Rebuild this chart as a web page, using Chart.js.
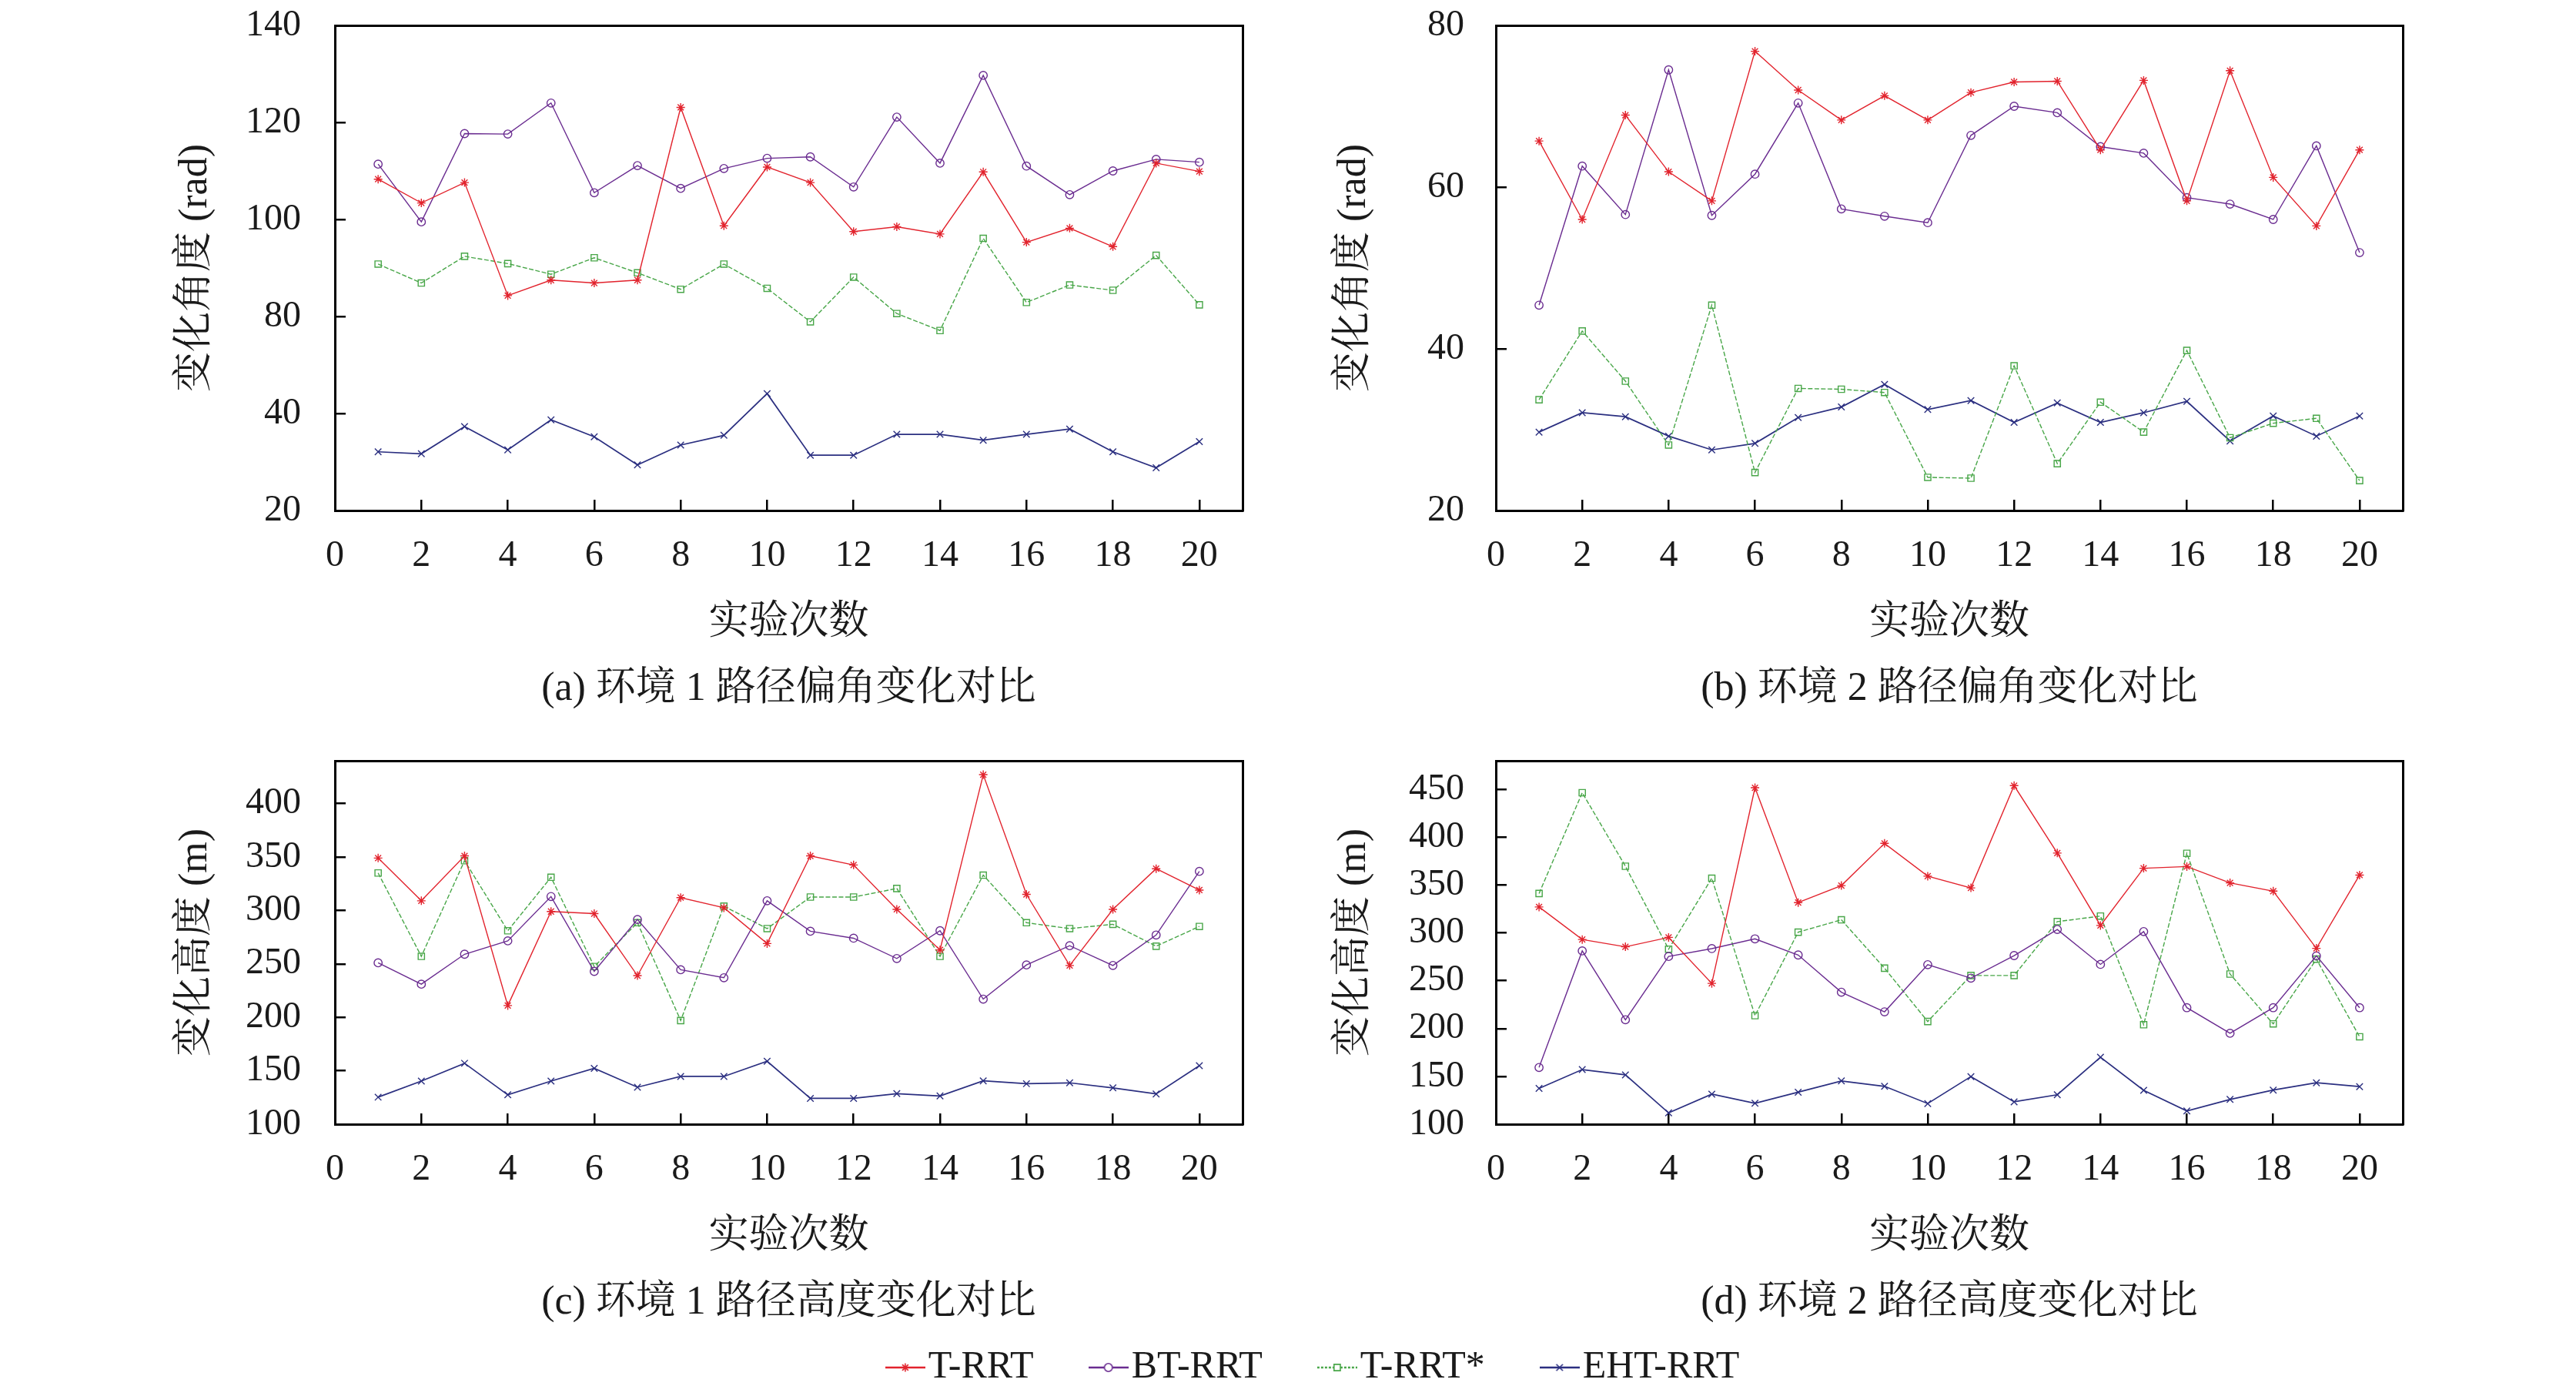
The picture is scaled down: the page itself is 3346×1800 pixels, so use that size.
<!DOCTYPE html>
<html>
<head>
<meta charset="utf-8">
<script src="https://cdn.jsdelivr.net/npm/chart.js@4.4.1/dist/chart.umd.min.js"></script>
<style>
html,body{margin:0;padding:0;background:#fff;width:3346px;height:1800px;overflow:hidden;}
canvas{position:absolute;}
</style>
</head>
<body>
<canvas id="pa" width="1673" height="950" style="left:0px;top:0px"></canvas>
<canvas id="pb" width="1673" height="950" style="left:1673px;top:0px"></canvas>
<canvas id="pc" width="1673" height="800" style="left:0px;top:950px"></canvas>
<canvas id="pd" width="1673" height="800" style="left:1673px;top:950px"></canvas>
<canvas id="leg" width="3346" height="300" style="left:42px;top:1659px"></canvas>
<script>
// ---------------- data ----------------
const runs = [1,2,3,4,5,6,7,8,9,10,11,12,13,14,15,16,17,18,19,20];
const seriesNames = ['T-RRT','BT-RRT','T-RRT*','EHT-RRT'];
const xTickValues = [0,2,4,6,8,10,12,14,16,18,20];

// (a) 环境1 路径偏角 (rad) — axis drawn with a gap between 40 and 80
const angleEnv1_TRRT  = [108.3,103.4,107.6,84.3,87.5,86.9,87.5,123.1,98.7,110.8,107.6,97.5,98.5,97.0,109.8,95.3,98.2,94.4,111.6,109.9];
const angleEnv1_BTRRT = [111.4,99.5,117.7,117.6,124.0,105.5,111.1,106.4,110.5,112.6,112.9,106.7,121.1,111.6,129.7,111.0,105.1,110.0,112.4,111.8];
const angleEnv1_TRRTs = [90.8,86.9,92.4,90.9,88.7,92.1,89.0,85.6,90.8,85.8,78.9,88.1,80.6,77.1,96.1,82.9,86.5,85.4,92.6,82.4];
const angleEnv1_EHT   = [32.1,31.7,37.3,32.5,38.7,35.2,29.4,33.5,35.5,44.1,31.4,31.4,35.7,35.7,34.5,35.7,36.8,32.1,28.8,34.2];
const yTickLabelsA = ['20','40','80','100','120','140'];

// (b) 环境2 路径偏角 (rad)
const angleEnv2_TRRT  = [65.7,56.0,68.9,61.9,58.3,76.8,72.0,68.3,71.3,68.3,71.7,73.0,73.1,64.6,73.2,58.3,74.4,61.2,55.2,64.6];
const angleEnv2_BTRRT = [45.4,62.6,56.6,74.5,56.5,61.6,70.4,57.3,56.4,55.6,66.4,70.0,69.2,65.0,64.2,58.7,57.9,56.0,65.1,51.9];
const angleEnv2_TRRTs = [33.7,42.2,36.0,28.1,45.4,24.7,35.1,35.0,34.6,24.1,24.0,37.9,25.8,33.4,29.7,39.8,29.0,30.8,31.4,23.7];
const angleEnv2_EHT   = [29.7,32.1,31.6,29.2,27.5,28.3,31.5,32.8,35.6,32.5,33.6,30.9,33.3,30.9,32.1,33.5,28.6,31.7,29.2,31.7];
const yTickValuesB = [20,40,60,80];

// (c) 环境1 路径高度 (m)
const heightEnv1_TRRT  = [349,309,351,211,299,297,239,312,302.5,269,351,342.5,301,263,427,315,248.5,301,339,319];
const heightEnv1_BTRRT = [251,231,259,271.5,313,243,291.5,244.5,237,309,280.5,274,255,281,217,249,267,248.5,277,336.5];
const heightEnv1_TRRTs = [335,257,346.5,281,331,247.5,288.5,197,304,283,312.5,312.5,320.5,257,333,288.5,283,287,266.5,285];
const heightEnv1_EHT   = [125.3,140.3,157,127.5,140.3,152.3,134.6,144.7,144.7,158.9,124.2,124.2,128.6,126.4,140.6,137.9,138.7,134,128.3,154.8];
const yTickValuesC = [100,150,200,250,300,350,400];

// (d) 环境2 路径高度 (m)
const heightEnv2_TRRT  = [327.1,293.1,285.5,295.3,247.2,451.8,331.7,349.5,393.6,359.3,347.1,454.0,383.5,307.8,367.6,369.4,352.3,343.7,283.9,360.5];
const heightEnv2_BTRRT = [159.3,281.2,209.2,275.4,283.6,293.8,276.9,238.0,217.5,266.8,252.7,276.3,303.6,267.1,301.4,221.8,195.1,221.8,276.0,221.8];
const heightEnv2_TRRTs = [341.2,446.6,369.7,283.0,357.2,213.5,300.8,313.7,263.1,207.4,255.5,255.5,311.8,317.6,204.0,383.2,257.0,204.9,272.6,191.4];
const heightEnv2_EHT   = [137.5,157.1,151.6,111.8,131.4,121.9,133.5,145.2,139.6,121.6,149.8,123.4,130.8,170.0,135.4,113.9,125.9,135.7,143.3,139.3];
const yTickValuesD = [100,150,200,250,300,350,400,450];

// ---------------- styles ----------------
const FONT = "'Liberation Serif','Noto Serif CJK SC','Noto Sans CJK SC',serif";
const TXT = '#1a1a1a';
const styles = [
  {color:'#e2232d', ps:'star',     r:5.5, lw:1.4, dash:[]},
  {color:'#6a2c90', ps:'circle',   r:5.2, lw:1.4, dash:[]},
  {color:'#48a648', ps:'rect',     r:5.8, lw:1.4, dash:[6,2.5]},
  {color:'#2b2f80', ps:'crossRot', r:6,   lw:1.7, dash:[]}
];

// (a) broken axis: values above 60 are shifted down by 20 (the 40–80 gap is drawn as one interval)
const gapA = v => (v > 60 ? v - 20 : v);
const yTickPosA = [20,40,60,80,100,120];

function makeDatasets(seriesList, mapFn) {
  return seriesList.map((vals, k) => ({
    label: seriesNames[k],
    data: runs.map((r, i) => ({x: r, y: mapFn ? mapFn(vals[i]) : vals[i]})),
    borderColor: styles[k].color,
    borderWidth: styles[k].lw,
    borderDash: styles[k].dash,
    pointStyle: styles[k].ps,
    pointRadius: styles[k].r,
    pointBorderWidth: 1.4,
    pointBorderColor: styles[k].color,
    pointBackgroundColor: 'rgba(0,0,0,0)',
    tension: 0,
    fill: false
  }));
}

function noPad(s) { s.paddingTop = 0; s.paddingBottom = 0; s.paddingLeft = 0; s.paddingRight = 0; }

function makePanel(id, p) {
  return new Chart(document.getElementById(id), {
    type: 'line',
    data: {datasets: makeDatasets(p.series, p.mapFn)},
    options: {
      responsive: false, animation: false, devicePixelRatio: 1,
      layout: {padding: p.pad},
      plugins: {
        legend: {display: false},
        tooltip: {enabled: false},
        title: {display: true, text: p.caption, position: 'bottom', fullSize: false,
                color: TXT, font: {family: FONT, size: 52, weight: 'normal', lineHeight: 1.2}, padding: 0}
      },
      scales: {
        x: {
          type: 'linear', position: 'bottom', min: 0, max: 21,
          afterBuildTicks: s => { s.ticks = xTickValues.map(v => ({value: v})); },
          afterFit: s => { s.height = 200.8; noPad(s); },
          ticks: {autoSkip: false, maxRotation: 0, minRotation: 0, padding: 45, color: TXT,
                  font: {family: FONT, size: 48}, callback: v => String(v)},
          grid: {drawOnChartArea: false, drawTicks: true, tickLength: -14, color: '#000', lineWidth: 2.5},
          border: {display: true, color: '#000', width: 3},
          title: {display: true, text: '实验次数', color: TXT,
                  font: {family: FONT, size: 52, lineHeight: 1.2}, padding: {top: 0, bottom: 23.6}}
        },
        y: {
          type: 'linear', position: 'left', min: p.yMin, max: p.yMax,
          afterBuildTicks: s => { s.ticks = p.yTicks.map(v => ({value: v})); },
          afterFit: s => { s.width = p.yWidth; noPad(s); },
          ticks: {autoSkip: false, padding: p.yPad, color: TXT, font: {family: FONT, size: 48},
                  callback: p.yLabel || (v => String(v))},
          grid: {drawOnChartArea: false, drawTicks: true, tickLength: -14, color: '#000', lineWidth: 2.5},
          border: {display: true, color: '#000', width: 3},
          title: {display: true, text: p.yTitle, color: TXT,
                  font: {family: FONT, size: 52, lineHeight: 1.2}, padding: 0}
        },
        x2: {
          type: 'linear', position: 'top', display: true, min: 0, max: 21,
          afterFit: s => { s.height = 0; noPad(s); },
          ticks: {display: false},
          grid: {drawOnChartArea: false, drawTicks: false},
          border: {display: true, color: '#000', width: 3}
        },
        y2: {
          type: 'linear', position: 'right', display: true, min: 0, max: 1,
          afterFit: s => { s.width = 0; noPad(s); },
          ticks: {display: false},
          grid: {drawOnChartArea: false, drawTicks: false},
          border: {display: true, color: '#000', width: 3}
        }
      }
    }
  });
}

makePanel('pa', {
  series: [angleEnv1_TRRT, angleEnv1_BTRRT, angleEnv1_TRRTs, angleEnv1_EHT],
  mapFn: gapA, yMin: 20, yMax: 120, yTicks: yTickPosA,
  yLabel: v => yTickLabelsA[yTickPosA.indexOf(v)] || '',
  yTitle: '变化角度 (rad)', caption: '(a) 环境 1 路径偏角变化对比',
  pad: {left: 223, right: 59, top: 33, bottom: 23.8}, yWidth: 212, yPad: 58
});
makePanel('pb', {
  series: [angleEnv2_TRRT, angleEnv2_BTRRT, angleEnv2_TRRTs, angleEnv2_EHT],
  yMin: 20, yMax: 80, yTicks: yTickValuesB,
  yTitle: '变化角度 (rad)', caption: '(b) 环境 2 路径偏角变化对比',
  pad: {left: 55, right: 225, top: 33, bottom: 23.8}, yWidth: 215, yPad: 55
});
makePanel('pc', {
  series: [heightEnv1_TRRT, heightEnv1_BTRRT, heightEnv1_TRRTs, heightEnv1_EHT],
  yMin: 100, yMax: 440, yTicks: yTickValuesC,
  yTitle: '变化高度 (m)', caption: '(c) 环境 1 路径高度变化对比',
  pad: {left: 223, right: 59, top: 38, bottom: 26.8}, yWidth: 212, yPad: 58
});
makePanel('pd', {
  series: [heightEnv2_TRRT, heightEnv2_BTRRT, heightEnv2_TRRTs, heightEnv2_EHT],
  yMin: 100, yMax: 480, yTicks: yTickValuesD,
  yTitle: '变化高度 (m)', caption: '(d) 环境 2 路径高度变化对比',
  pad: {left: 55, right: 225, top: 38, bottom: 26.8}, yWidth: 215, yPad: 55
});

// ---------------- shared legend ----------------
function legendIcon(k) {
  const st = styles[k];
  const c = document.createElement('canvas');
  c.width = 52; c.height = 24;
  const g = c.getContext('2d');
  g.strokeStyle = st.color; g.lineWidth = 2.4;
  g.setLineDash(k === 2 ? [3, 2] : []);
  g.beginPath(); g.moveTo(0, 12); g.lineTo(52, 12); g.stroke();
  g.setLineDash([]);
  g.fillStyle = 'rgba(255,255,255,1)';
  g.lineWidth = 1.6;
  if (Chart.helpers && Chart.helpers.drawPoint) {
    Chart.helpers.drawPoint(g, {pointStyle: st.ps, radius: st.r, borderWidth: 1.6, rotation: 0}, 26, 12);
  }
  return c;
}

new Chart(document.getElementById('leg'), {
  type: 'line',
  data: {datasets: seriesNames.map((n, k) => ({label: n, data: [], borderColor: styles[k].color}))},
  options: {
    responsive: false, animation: false, devicePixelRatio: 1,
    layout: {padding: 0},
    scales: {x: {display: false}, y: {display: false}},
    plugins: {
      tooltip: {enabled: false},
      title: {display: false},
      legend: {
        display: true, position: 'top', align: 'center',
        labels: {
          usePointStyle: true, pointStyleWidth: 10, padding: 92, color: TXT,
          font: {family: FONT, size: 50},
          generateLabels: chart => chart.data.datasets.map((d, i) => ({
            text: d.label, pointStyle: legendIcon(i), fillStyle: 'rgba(0,0,0,0)',
            strokeStyle: 'rgba(0,0,0,0)', lineWidth: 0, hidden: false, datasetIndex: i, fontColor: TXT
          }))
        }
      }
    }
  }
});
</script>
</body>
</html>
